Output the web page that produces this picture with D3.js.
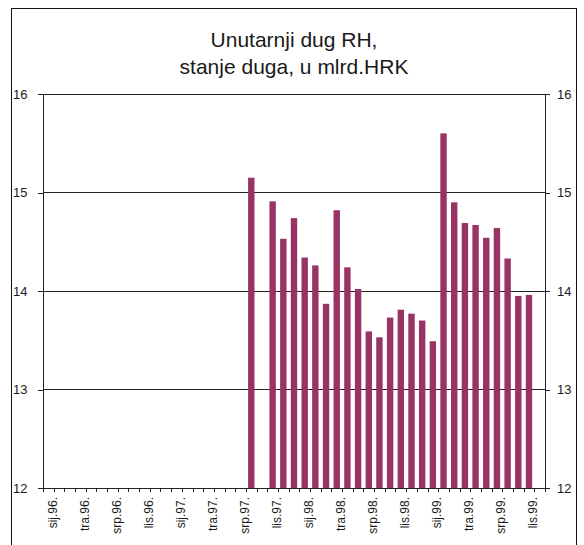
<!DOCTYPE html>
<html>
<head>
<meta charset="utf-8">
<script src="https://d3js.org/d3.v7.min.js"></script>
<style>
body { margin: 0; background: #fff; }
text { font-family: "Liberation Sans", Arial, sans-serif; fill: #1a1a1a; }
.grid { stroke: #222; stroke-width: 1; shape-rendering: crispEdges; }
.axis line, .axis path { stroke: #222; shape-rendering: crispEdges; }
.bar { fill: #993366; }
</style>
</head>
<body>
<div id="chart"></div>
<script>
// monthly categories, sij.96 .. stu.99
var months = [
  "sij.96.", "velj.96.", "ožu.96.", "tra.96.", "svi.96.", "lip.96.", "srp.96.", "kol.96.", "ruj.96.", "lis.96.", "stu.96.", "pro.96.",
  "sij.97.", "velj.97.", "ožu.97.", "tra.97.", "svi.97.", "lip.97.", "srp.97.", "kol.97.", "ruj.97.", "lis.97.", "stu.97.", "pro.97.",
  "sij.98.", "velj.98.", "ožu.98.", "tra.98.", "svi.98.", "lip.98.", "srp.98.", "kol.98.", "ruj.98.", "lis.98.", "stu.98.", "pro.98.",
  "sij.99.", "velj.99.", "ožu.99.", "tra.99.", "svi.99.", "lip.99.", "srp.99.", "kol.99.", "ruj.99.", "lis.99.", "stu.99."
];

// debt level, bn HRK (null = no data)
var debt = [
  null, null, null, null, null, null, null, null, null, null, null, null,
  null, null, null, null, null, null, null, 15.15, null, 14.91, 14.53, 14.74,
  14.34, 14.26, 13.87, 14.82, 14.24, 14.02, 13.59, 13.53, 13.73, 13.81, 13.77, 13.70,
  13.49, 15.60, 14.90, 14.69, 14.67, 14.54, 14.64, 14.33, 13.95, 13.96, null
];

// only every third month gets a label
var shownLabels = ["sij.96.", "tra.96.", "srp.96.", "lis.96.", "sij.97.", "tra.97.", "srp.97.", "lis.97.",
  "sij.98.", "tra.98.", "srp.98.", "lis.98.", "sij.99.", "tra.99.", "srp.99.", "lis.99."];

var yTicks = [12, 13, 14, 15, 16];
var titleLines = ["Unutarnji dug RH,", "stanje duga, u mlrd.HRK"];

var W = 584, H = 545;
var pLeft = 43, pRight = 545, pTop = 94, pBottom = 488;

var svg = d3.select("#chart").append("svg")
    .attr("width", W)
    .attr("height", H);

// outer frame of the chart
svg.append("rect")
    .attr("x", 11.5).attr("y", 8.5)
    .attr("width", 565).attr("height", 600)
    .attr("fill", "none").attr("stroke", "#111");

var x = d3.scaleBand()
    .domain(months)
    .range([pLeft, pRight])
    .paddingInner(0.4)
    .paddingOuter(0.2);

var y = d3.scaleLinear()
    .domain([12, 16])
    .range([pBottom, pTop]);

// title
svg.selectAll(".title")
    .data(titleLines)
  .enter().append("text")
    .attr("class", "title")
    .attr("x", (pLeft + pRight) / 2)
    .attr("y", function(d, i) { return 47 + i * 27; })
    .attr("text-anchor", "middle")
    .style("font-size", "21px")
    .text(function(d) { return d; });

// gridlines
svg.selectAll(".grid")
    .data(yTicks.slice(1))
  .enter().append("line")
    .attr("class", "grid")
    .attr("x1", pLeft).attr("x2", pRight)
    .attr("y1", function(d) { return y(d); })
    .attr("y2", function(d) { return y(d); });

// bars
svg.selectAll(".bar")
    .data(months.map(function(m, i) { return {m: m, v: debt[i]}; })
      .filter(function(d) { return d.v != null; }))
  .enter().append("rect")
    .attr("class", "bar")
    .attr("x", function(d) { return x(d.m); })
    .attr("width", x.bandwidth())
    .attr("y", function(d) { return y(d.v); })
    .attr("height", function(d) { return y(12) - y(d.v); });

// left and right value axes
svg.append("g")
    .attr("class", "axis")
    .attr("transform", "translate(" + pLeft + ",0)")
    .call(d3.axisLeft(y).tickValues(yTicks).tickSize(5).tickSizeOuter(0).tickFormat(""));

svg.append("g")
    .attr("class", "axis")
    .attr("transform", "translate(" + pRight + ",0)")
    .call(d3.axisRight(y).tickValues(yTicks).tickSize(5).tickSizeOuter(0).tickFormat(""));

svg.selectAll(".ylab-l")
    .data(yTicks)
  .enter().append("text")
    .attr("x", 13)
    .attr("y", function(d) { return y(d); })
    .attr("dy", "0.35em")
    .style("font-size", "13px")
    .text(function(d) { return d; });

svg.selectAll(".ylab-r")
    .data(yTicks)
  .enter().append("text")
    .attr("x", 557)
    .attr("y", function(d) { return y(d); })
    .attr("dy", "0.35em")
    .style("font-size", "13px")
    .text(function(d) { return d; });

// category axis: ticks between months
var step = x.step();
var bounds = months.map(function(m) { return x(m) - step * 0.2; }).concat([pRight]);

svg.append("line")
    .attr("class", "grid")
    .attr("x1", pLeft).attr("x2", pRight)
    .attr("y1", pBottom).attr("y2", pBottom);

svg.selectAll(".xtick")
    .data(bounds)
  .enter().append("line")
    .attr("class", "grid")
    .attr("x1", function(d) { return Math.round(d) + 0.5; })
    .attr("x2", function(d) { return Math.round(d) + 0.5; })
    .attr("y1", pBottom).attr("y2", pBottom + 4);

svg.selectAll(".xlab")
    .data(shownLabels)
  .enter().append("text")
    .attr("transform", function(d) {
      return "translate(" + (x(d) + x.bandwidth() / 2 + 4) + "," + (pBottom + 9) + ") rotate(-90)";
    })
    .attr("text-anchor", "end")
    .attr("dy", "0.35em")
    .style("font-size", "12px")
    .text(function(d) { return d; });
</script>
</body>
</html>
